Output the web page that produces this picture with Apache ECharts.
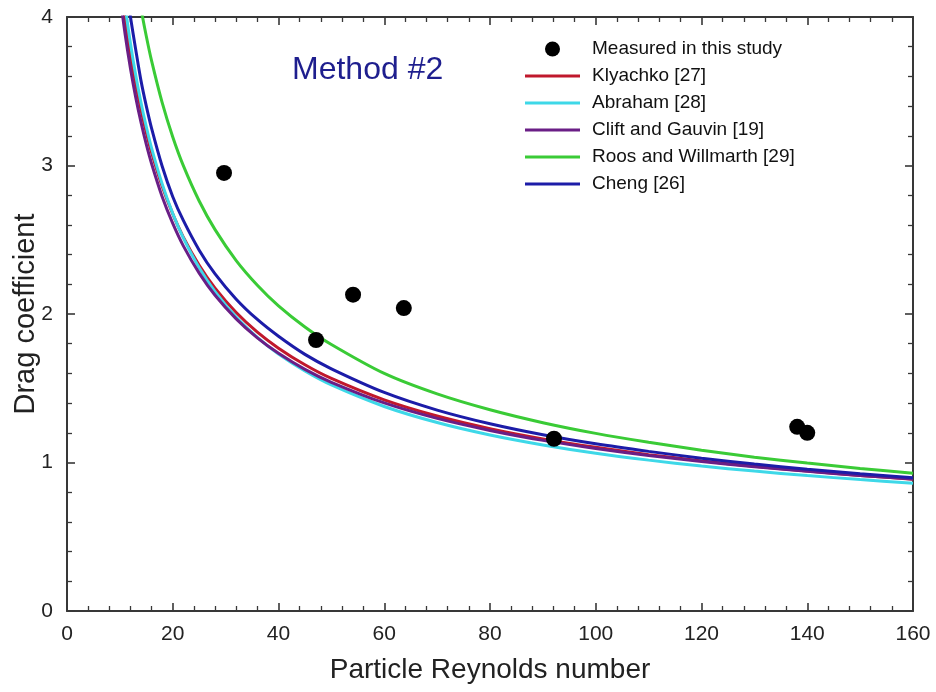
<!DOCTYPE html>
<html>
<head>
<meta charset="utf-8">
<script src="https://cdn.jsdelivr.net/npm/echarts@6/dist/echarts.min.js"></script>
<style>html,body{margin:0;padding:0;background:#fff}#c{width:936px;height:692px}</style>
</head>
<body>
<div id="c"></div>
<script>
var measuredRe = [29.7, 47.1, 54.1, 63.7, 92.1, 138.1, 140.0];
var measuredCd = [2.95, 1.825, 2.13, 2.04, 1.16, 1.24, 1.20];

var reynolds = [10, 11, 12, 13, 14, 15, 16, 18, 20, 22, 25, 28, 32, 36, 40, 45, 50, 60, 70, 80, 90, 100, 110, 120, 130, 140, 150, 160];
var klyachko = [4.257, 3.980, 3.747, 3.547, 3.374, 3.222, 3.087, 2.860, 2.674, 2.518, 2.328, 2.174, 2.010, 1.878, 1.770, 1.658, 1.566, 1.422, 1.313, 1.228, 1.159, 1.102, 1.053, 1.011, 0.974, 0.942, 0.913, 0.887];
var abraham = [4.368, 4.073, 3.822, 3.608, 3.423, 3.261, 3.117, 2.875, 2.677, 2.513, 2.312, 2.151, 1.979, 1.842, 1.730, 1.616, 1.522, 1.377, 1.269, 1.185, 1.118, 1.062, 1.016, 0.976, 0.942, 0.912, 0.885, 0.861];
var cliftGauvin = [4.151, 3.882, 3.654, 3.459, 3.290, 3.142, 3.012, 2.790, 2.610, 2.459, 2.275, 2.126, 1.967, 1.839, 1.735, 1.627, 1.540, 1.401, 1.297, 1.216, 1.149, 1.094, 1.047, 1.007, 0.972, 0.941, 0.913, 0.889];
var roosWillmarth = [5.127, 4.794, 4.511, 4.268, 4.056, 3.870, 3.704, 3.423, 3.192, 2.999, 2.761, 2.568, 2.360, 2.194, 2.055, 1.913, 1.795, 1.600, 1.462, 1.355, 1.268, 1.196, 1.136, 1.083, 1.036, 0.996, 0.960, 0.927];
var cheng = [4.55, 4.25, 4.00, 3.78, 3.57, 3.40, 3.25, 2.995, 2.79, 2.63, 2.43, 2.27, 2.10, 1.963, 1.85, 1.728, 1.631, 1.472, 1.353, 1.261, 1.187, 1.126, 1.075, 1.029, 0.990, 0.955, 0.925, 0.897];

var xTicks = [0, 20, 40, 60, 80, 100, 120, 140, 160];
var yTicks = [0, 1, 2, 3, 4];

function pairs(xs, ys) { return xs.map(function (x, i) { return [x, ys[i]]; }); }

var FONT = '"Liberation Sans", Arial, sans-serif';
var AX = '#383838';

function axisCommon(showLabels, margin) {
  return {
    axisLine: { show: true, onZero: false, lineStyle: { color: AX, width: 2 } },
    axisTick: { show: true, inside: true, length: 8, lineStyle: { color: AX, width: 1.6 } },
    minorTick: { show: true, splitNumber: 5, length: 5, lineStyle: { color: AX, width: 1.3 } },
    splitLine: { show: false },
    minorSplitLine: { show: false },
    axisLabel: { show: showLabels, color: '#222', fontSize: 21, fontFamily: FONT, margin: margin || 8 }
  };
}

var chart = echarts.init(document.getElementById('c'), null, { renderer: 'canvas' });

var LINE_ICON = 'path://M0,0 L55,0 L55,3 L0,3 Z';

function lineSeries(name, ys, color) {
  return {
    name: name, type: 'line', data: pairs(reynolds, ys),
    smooth: 0.3, showSymbol: false, symbol: 'none', clip: true,
    lineStyle: { color: color, width: 3 }, itemStyle: { color: color },
    xAxisIndex: 0, yAxisIndex: 0
  };
}

var option = {
  animation: false,
  backgroundColor: '#fff',
  grid: { left: 67, right: 23, top: 17, bottom: 81, containLabel: false, outerBoundsMode: 'none' },
  title: {
    text: 'Method #2', left: 292, top: 54, padding: 0,
    textStyle: { color: '#1e1e8e', fontSize: 32, fontWeight: 'normal', fontFamily: FONT }
  },
  legend: {
    orient: 'vertical', left: 525, top: 38, padding: 0,
    itemWidth: 55, itemHeight: 15, itemGap: 5, itemTextGap: 12,
    textStyle: { color: '#111', fontSize: 19, fontFamily: FONT, lineHeight: 22, padding: [0, 0, 0, 7] },
    data: [
      { name: 'Measured in this study', icon: 'circle' },
      { name: 'Klyachko [27]', icon: LINE_ICON },
      { name: 'Abraham [28]', icon: LINE_ICON },
      { name: 'Clift and Gauvin [19]', icon: LINE_ICON },
      { name: 'Roos and Willmarth [29]', icon: LINE_ICON },
      { name: 'Cheng [26]', icon: LINE_ICON }
    ]
  },
  xAxis: [
    Object.assign({
      type: 'value', min: xTicks[0], max: xTicks[xTicks.length - 1], interval: 20, position: 'bottom',
      name: 'Particle Reynolds number', nameLocation: 'middle', nameGap: 45,
      nameTextStyle: { color: '#222', fontSize: 28, fontFamily: FONT }
    }, axisCommon(true, 13)),
    Object.assign({
      type: 'value', min: xTicks[0], max: xTicks[xTicks.length - 1], interval: 20, position: 'top'
    }, axisCommon(false))
  ],
  yAxis: [
    Object.assign({
      type: 'value', min: yTicks[0], max: yTicks[yTicks.length - 1], interval: 1, position: 'left',
      name: 'Drag coefficient', nameLocation: 'middle', nameGap: 27, nameRotate: 90, nameMoveOverlap: false,
      nameTextStyle: { color: '#222', fontSize: 29, fontFamily: FONT }
    }, axisCommon(true, 14)),
    Object.assign({
      type: 'value', min: yTicks[0], max: yTicks[yTicks.length - 1], interval: 1, position: 'right'
    }, axisCommon(false))
  ],
  series: [
    lineSeries('Klyachko [27]', klyachko, '#c0182c'),
    lineSeries('Abraham [28]', abraham, '#3ed8e8'),
    lineSeries('Clift and Gauvin [19]', cliftGauvin, '#6a1e86'),
    lineSeries('Roos and Willmarth [29]', roosWillmarth, '#3acb36'),
    lineSeries('Cheng [26]', cheng, '#1c1ca8'),
    {
      name: 'Measured in this study', type: 'scatter', data: pairs(measuredRe, measuredCd),
      symbol: 'circle', symbolSize: 16, itemStyle: { color: '#000', opacity: 1 }, z: 5,
      xAxisIndex: 0, yAxisIndex: 0
    }
  ]
};
chart.setOption(option);
</script>
</body>
</html>
